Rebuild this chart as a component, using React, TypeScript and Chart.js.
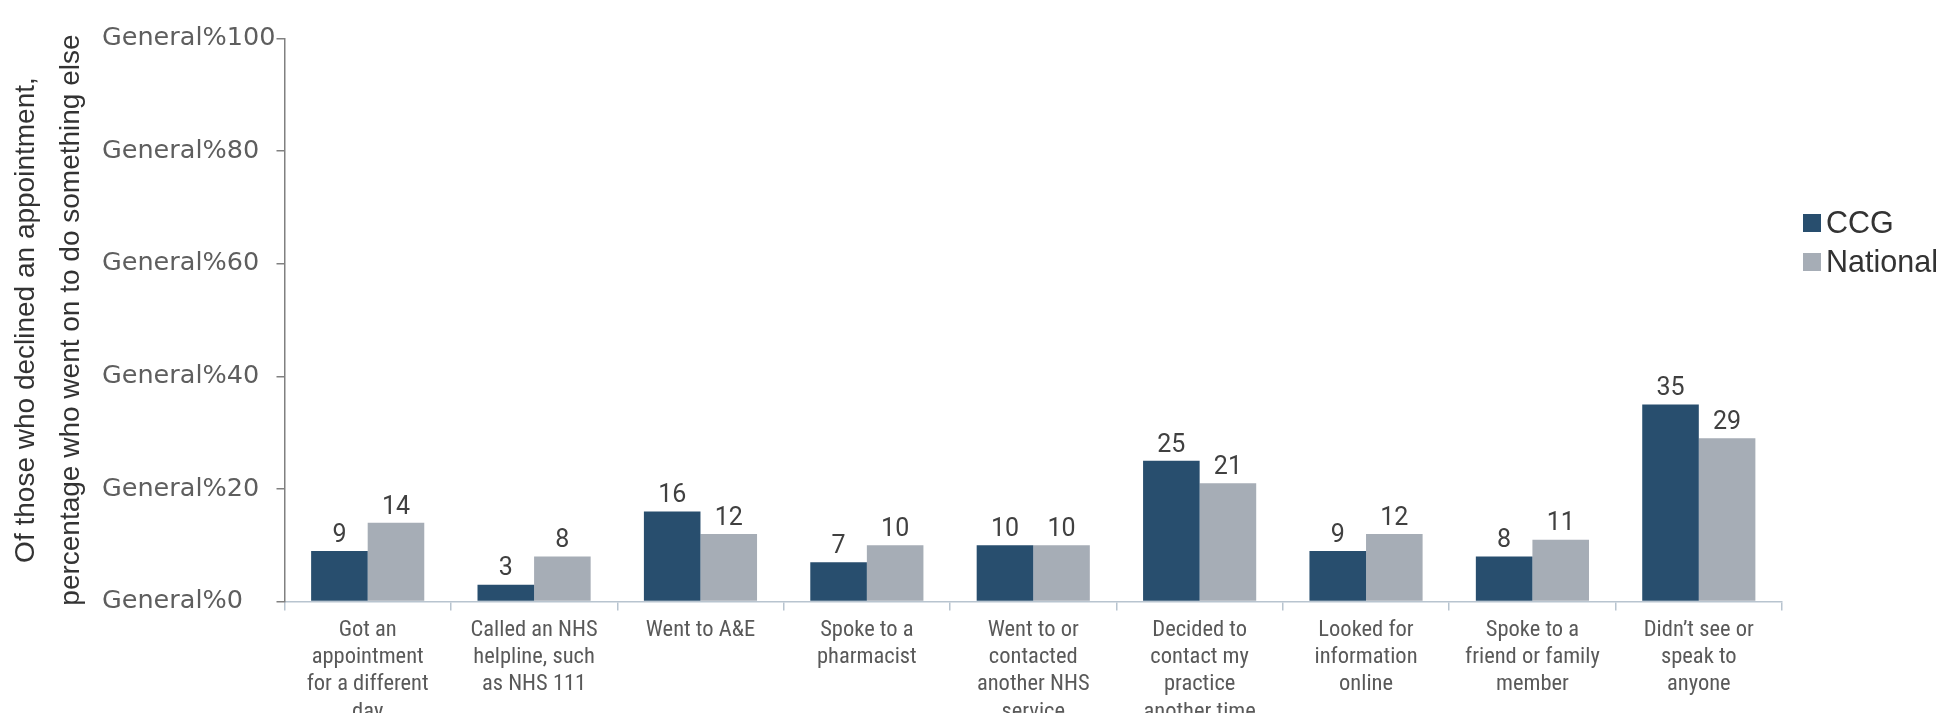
import React, { useEffect, useRef } from "react";
import { Chart, registerables } from "chart.js";

Chart.register(...registerables);

const categories: string[][] = [
  ["Got an", "appointment", "for a different", "day"],
  ["Called an NHS", "helpline, such", "as NHS 111"],
  ["Went to A&E"],
  ["Spoke to a", "pharmacist"],
  ["Went to or", "contacted", "another NHS", "service"],
  ["Decided to", "contact my", "practice", "another time"],
  ["Looked for", "information", "online"],
  ["Spoke to a", "friend or family", "member"],
  ["Didn\u2019t see or", "speak to", "anyone"],
];

const ccgValues: number[] = [9, 3, 16, 7, 10, 25, 9, 8, 35];
const nationalValues: number[] = [14, 8, 12, 10, 10, 21, 12, 11, 29];

const yTickLabels: string[] = [
  "General%0",
  "General%20",
  "General%40",
  "General%60",
  "General%80",
  "General%100",
];

const yTitleLines: string[] = [
  "Of those who declined an appointment,",
  "percentage who went on to do something else",
];

const seriesNames: string[] = ["CCG", "National"];
const seriesColors: string[] = ["#284e6e", "#a6adb6"];

const valueLabelPlugin = {
  id: "valueLabels",
  afterDatasetsDraw(chart: any) {
    const ctx = chart.ctx;
    ctx.save();
    ctx.font = "25px Roboto";
    ctx.fillStyle = "#404040";
    ctx.textAlign = "center";
    ctx.textBaseline = "bottom";
    chart.data.datasets.forEach((ds: any, di: number) => {
      const meta = chart.getDatasetMeta(di);
      meta.data.forEach((bar: any, i: number) => {
        ctx.fillText(String(ds.data[i]), bar.x, bar.y - 3);
      });
    });
    ctx.restore();
  },
};

export default function App() {
  const canvasRef = useRef<HTMLCanvasElement | null>(null);

  useEffect(() => {
    if (!canvasRef.current) return;
    const chart = new Chart(canvasRef.current, {
      type: "bar",
      data: {
        labels: categories,
        datasets: [
          {
            label: seriesNames[0],
            data: ccgValues,
            backgroundColor: seriesColors[0],
            yAxisID: "y",
          },
          {
            label: seriesNames[1],
            data: nationalValues,
            backgroundColor: seriesColors[1],
            yAxisID: "y",
          },
        ],
      },
      options: {
        animation: false,
        responsive: true,
        maintainAspectRatio: false,
        datasets: {
          bar: { categoryPercentage: 0.68, barPercentage: 1.0 },
        },
        layout: { padding: { top: 30.5, right: 159, bottom: 0, left: 0 } },
        plugins: {
          legend: { display: false },
          tooltip: { enabled: false },
        },
        scales: {
          x: {
            offset: true,
            grid: {
              display: true,
              drawOnChartArea: false,
              drawTicks: true,
              tickLength: 9,
              color: "#b8c4cf",
              lineWidth: 1.5,
            },
            border: { display: true, color: "#b8c4cf", width: 1.5 },
            ticks: {
              autoSkip: false,
              maxRotation: 0,
              minRotation: 0,
              padding: 6,
              color: "#595959",
              font: {
                family: "'Liberation Sans Narrow', 'Roboto Condensed', 'Arial Narrow', sans-serif",
                size: 22.5,
                lineHeight: 1.21,
              },
            },
            afterFit: (scale: any) => {
              scale.height = 111.4;
            },
          },
          y: {
            position: "left",
            weight: 0,
            min: 0,
            max: 100,
            ticks: {
              stepSize: 20,
              crossAlign: "far",
              color: "#5e5e5e",
              font: { family: "'DejaVu Sans', sans-serif", size: 25.5 },
              callback: (_v: any, index: number) => yTickLabels[index],
            },
            grid: {
              display: true,
              drawOnChartArea: false,
              drawTicks: true,
              tickLength: 8,
              color: "#808080",
              lineWidth: 1.5,
            },
            border: { display: true, color: "#808080", width: 1.5 },
            afterFit: (scale: any) => {
              scale.width = 182.5;
            },
          },
          yTitle: {
            type: "linear",
            position: "left",
            weight: 1,
            min: 0,
            max: 1,
            ticks: { display: false },
            grid: { display: false, drawTicks: false },
            border: { display: false },
            title: {
              display: true,
              text: yTitleLines,
              color: "#333333",
              padding: { top: -4, bottom: 0 },
              font: {
                family: "'Liberation Sans', Arial, sans-serif",
                size: 28,
                lineHeight: 1.6,
              },
            },
            afterFit: (scale: any) => {
              scale.width = 94;
            },
          },
        },
      } as any,
      plugins: [valueLabelPlugin],
    });
    return () => chart.destroy();
  }, []);

  const legendRow: React.CSSProperties = {
    display: "flex",
    alignItems: "center",
    height: 39,
  };
  const swatch = (c: string): React.CSSProperties => ({
    width: 18,
    height: 18,
    background: c,
    marginRight: 5,
    flex: "0 0 auto",
  });

  return (
    <div style={{ position: "relative", width: 1933, height: 705 }}>
      <canvas ref={canvasRef} />
      <div
        style={{
          position: "absolute",
          left: 1795,
          top: 195,
          fontFamily: "'Liberation Sans', Arial, sans-serif",
          fontSize: 30.5,
          color: "#333333",
          lineHeight: 1,
        }}
      >
        {seriesNames.map((n, i) => (
          <div key={n} style={legendRow}>
            <span style={swatch(seriesColors[i])} />
            <span>{n}</span>
          </div>
        ))}
      </div>
    </div>
  );
}
